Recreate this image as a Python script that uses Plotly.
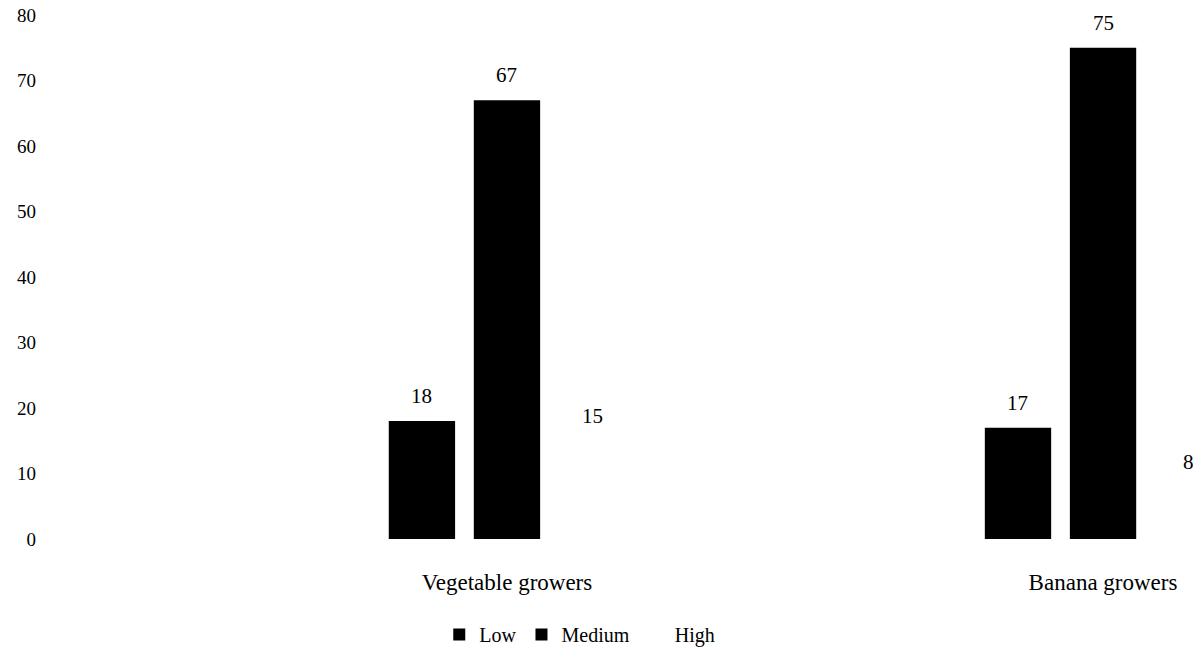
import plotly.graph_objects as go

# Knowledge level of respondents (%) by grower group
categories = ["Vegetable growers", "Banana growers"]
low = [18, 17]
medium = [67, 75]
high = [15, 8]
series_names = ["Low", "Medium", "High"]

SERIF = "Liberation Serif, Times New Roman, serif"
colors = ["#000000", "#000000", "#ffffff"]

# layout geometry
WIDTH, HEIGHT = 1199, 654
MARGIN = dict(l=48, r=0, t=15, b=115)
X_RANGE = [-0.770, 1.161]
BARGAP = 0.572
BARGROUPGAP = 0.22

plot_w = WIDTH - MARGIN["l"] - MARGIN["r"]
px_per_unit = plot_w / (X_RANGE[1] - X_RANGE[0])
pitch_px = (1 - BARGAP) / len(series_names) * px_per_unit

fig = go.Figure()
annotations = []
for i, (name, vals, col) in enumerate(zip(series_names, [low, medium, high], colors)):
    fig.add_trace(go.Bar(
        name=name,
        x=categories,
        y=vals,
        marker=dict(color=col, line=dict(width=0)),
        cliponaxis=False,
    ))
    # value labels above each bar
    for cat, v in zip(categories, vals):
        annotations.append(dict(
            x=cat, y=v, xref="x", yref="y",
            text=str(v), showarrow=False,
            xanchor="center", yanchor="bottom",
            xshift=(i - (len(series_names) - 1) / 2) * pitch_px,
            yshift=11,
            font=dict(family=SERIF, size=21, color="#000000"),
        ))

fig.update_layout(
    width=WIDTH,
    height=HEIGHT,
    paper_bgcolor="white",
    plot_bgcolor="white",
    barmode="group",
    bargap=BARGAP,
    bargroupgap=BARGROUPGAP,
    margin=MARGIN,
    font=dict(family=SERIF, size=18, color="#000000"),
    showlegend=True,
    annotations=annotations,
    legend=dict(
        orientation="h",
        x=0.462,
        xanchor="center",
        y=-0.183,
        yanchor="middle",
        font=dict(family=SERIF, size=20),
        itemwidth=30,
    ),
    xaxis=dict(
        type="category",
        range=X_RANGE,
        showline=False,
        showgrid=False,
        ticks="",
        ticklabelstandoff=27,
        tickfont=dict(family=SERIF, size=23),
    ),
    yaxis=dict(
        range=[0, 80],
        dtick=10,
        showline=False,
        showgrid=False,
        zeroline=False,
        ticks="",
        ticklabelstandoff=11,
        tickfont=dict(family=SERIF, size=19),
    ),
)

fig.write_html("out.html")
